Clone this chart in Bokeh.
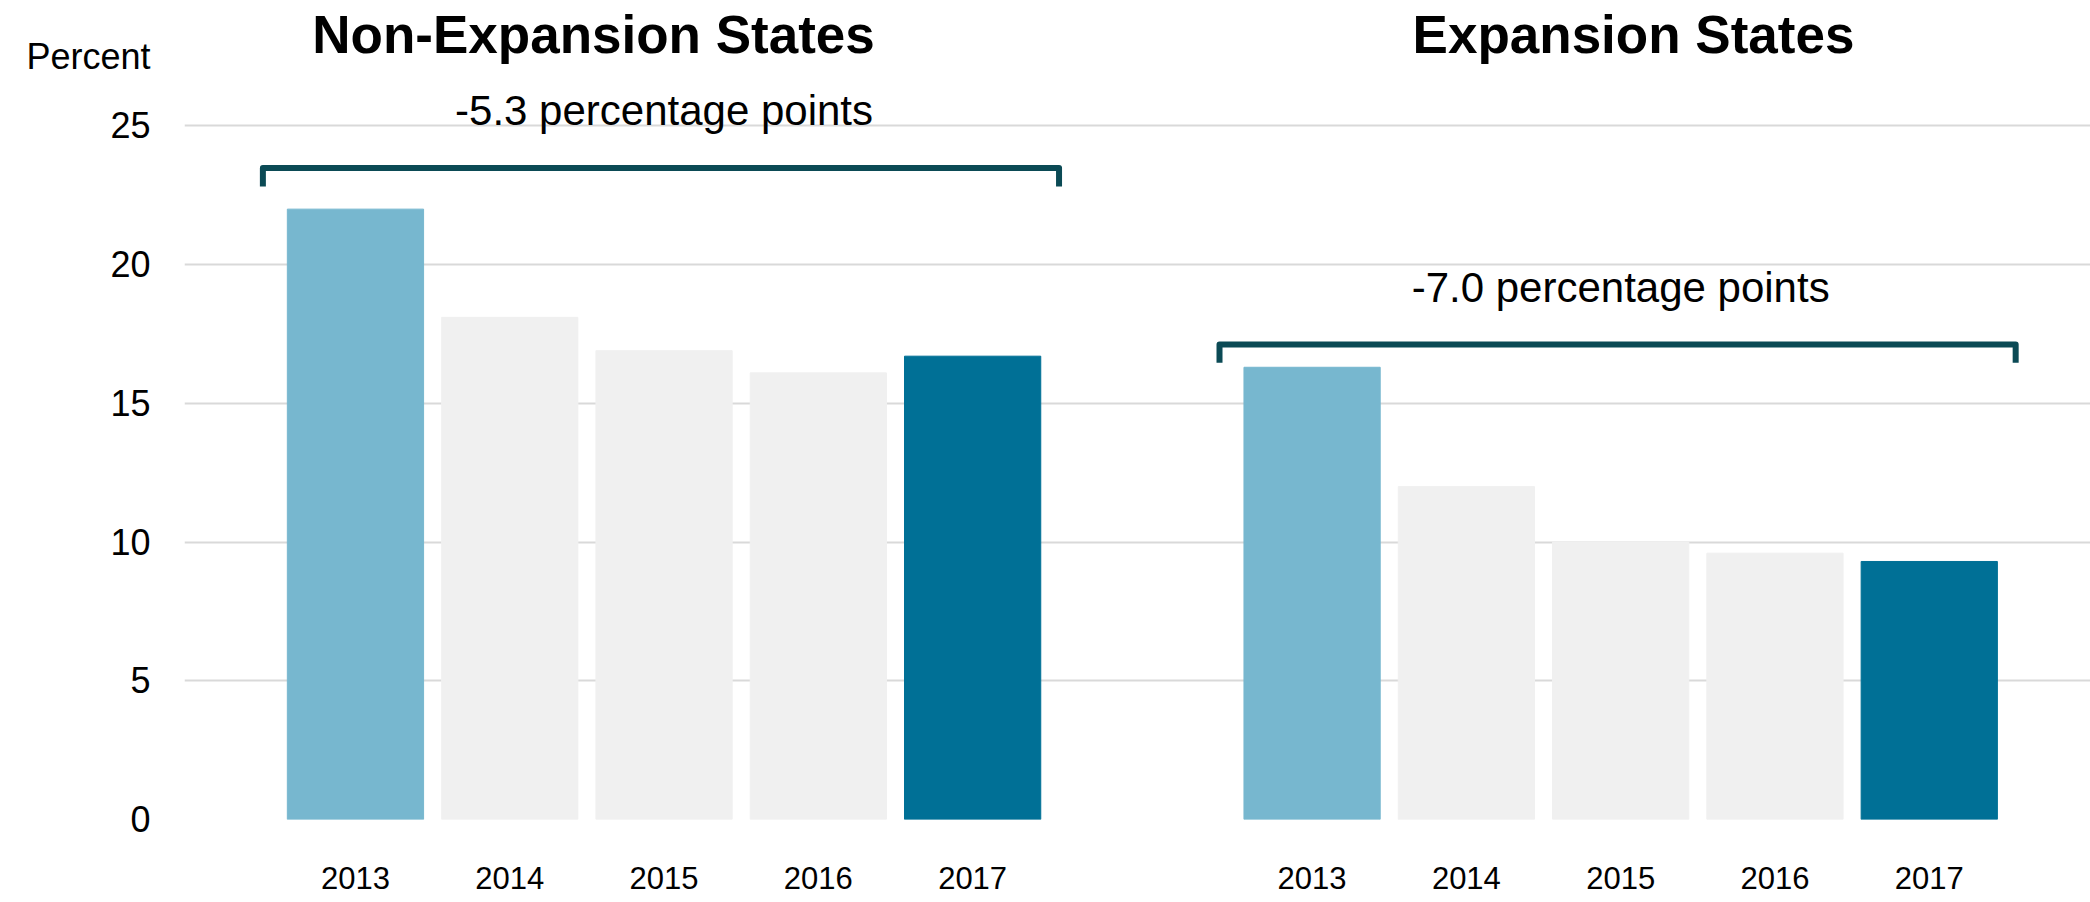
from bokeh.plotting import figure
from bokeh.models import Range1d, FixedTicker, Label, ColumnDataSource
from bokeh.embed import file_html
from bokeh.resources import INLINE

# ---- data ----
groups = ["Non-Expansion States", "Expansion States"]
years = ["2013", "2014", "2015", "2016", "2017"]
nonexp_values = [22.0, 18.1, 16.9, 16.1, 16.7]
exp_values = [16.3, 12.0, 10.0, 9.6, 9.3]
change_labels = ["-5.3 percentage points", "-7.0 percentage points"]
y_ticks = [0, 5, 10, 15, 20, 25]
y_unit_label = "Percent"

# ---- styling / layout constants ----
FONT = "Liberation Sans"
C_FIRST = "#77b7cf"
C_MID = "#f0f0f0"
C_LAST = "#007096"
C_BRACKET = "#0b4a55"
GROUP_OFFSET = 6.2
BAR_W = 0.883

p = figure(width=2090, height=902, output_backend="svg", toolbar_location=None,
           x_range=Range1d(-1.108, 11.245), y_range=Range1d(0, 29.52),
           min_border_left=184, min_border_right=0, min_border_top=0,
           min_border_bottom=83)
p.outline_line_color = None
p.background_fill_color = "white"
p.border_fill_color = "white"

xs, tops, colors, tick_pos, tick_lab = [], [], [], [], []
for g, vals in enumerate([nonexp_values, exp_values]):
    for i, (yr, v) in enumerate(zip(years, vals)):
        x = round(g * GROUP_OFFSET + i, 3)
        xs.append(x)
        tops.append(v)
        colors.append(C_FIRST if i == 0 else (C_LAST if i == len(years) - 1 else C_MID))
        tick_pos.append(x)
        tick_lab.append(yr)

src = ColumnDataSource(dict(x=xs, top=tops, color=colors))
p.vbar(x="x", top="top", bottom=0, width=BAR_W, color="color", source=src)

# brackets and change annotations
bracket_levels = [23.48, 17.12]
for g, vals in enumerate([nonexp_values, exp_values]):
    x0 = g * GROUP_OFFSET - 0.6
    x1 = g * GROUP_OFFSET + len(vals) - 1 + 0.56
    yb = bracket_levels[g]
    p.line([x0, x0, x1, x1], [yb - 0.66, yb, yb, yb - 0.66], line_color=C_BRACKET,
           line_width=6, line_join="round", line_cap="butt")
    xc = g * GROUP_OFFSET + (len(vals) - 1) / 2
    p.add_layout(Label(x=xc, y=yb + 2.07, text=change_labels[g], text_align="center",
                       text_baseline="alphabetic", text_font=FONT,
                       text_font_size="42px", text_color="black"))

# group titles
title_x = [1.543, 8.283]
for g, name in enumerate(groups):
    p.add_layout(Label(x=title_x[g], y=28.29, text=name, text_align="center",
                       text_baseline="alphabetic", text_font=FONT,
                       text_font_size="53px", text_font_style="bold", text_color="black"))

# axes
unit_pos = 27.5
p.yaxis.ticker = FixedTicker(ticks=y_ticks + [unit_pos])
p.yaxis.major_label_overrides = {unit_pos: y_unit_label}
p.yaxis.axis_line_color = None
p.yaxis.major_tick_line_color = None
p.yaxis.minor_tick_line_color = None
p.yaxis.major_tick_in = 0
p.yaxis.major_tick_out = 0
p.yaxis.major_label_standoff = 34
p.yaxis.major_label_text_font = FONT
p.yaxis.major_label_text_font_size = "36px"
p.yaxis.major_label_text_color = "black"

p.xaxis.ticker = FixedTicker(ticks=tick_pos)
p.xaxis.major_label_overrides = {x: lab for x, lab in zip(tick_pos, tick_lab)}
p.xaxis.axis_line_color = None
p.xaxis.major_tick_line_color = None
p.xaxis.minor_tick_line_color = None
p.xaxis.major_tick_in = 0
p.xaxis.major_tick_out = 0
p.xaxis.major_label_standoff = 47
p.xaxis.major_label_text_font = FONT
p.xaxis.major_label_text_font_size = "31px"
p.xaxis.major_label_text_color = "black"

p.xgrid.grid_line_color = None
p.ygrid.ticker = FixedTicker(ticks=y_ticks)
p.ygrid.grid_line_color = "#d9d9d9"
p.ygrid.grid_line_width = 2

open("out.html", "w").write(file_html(p, INLINE))
